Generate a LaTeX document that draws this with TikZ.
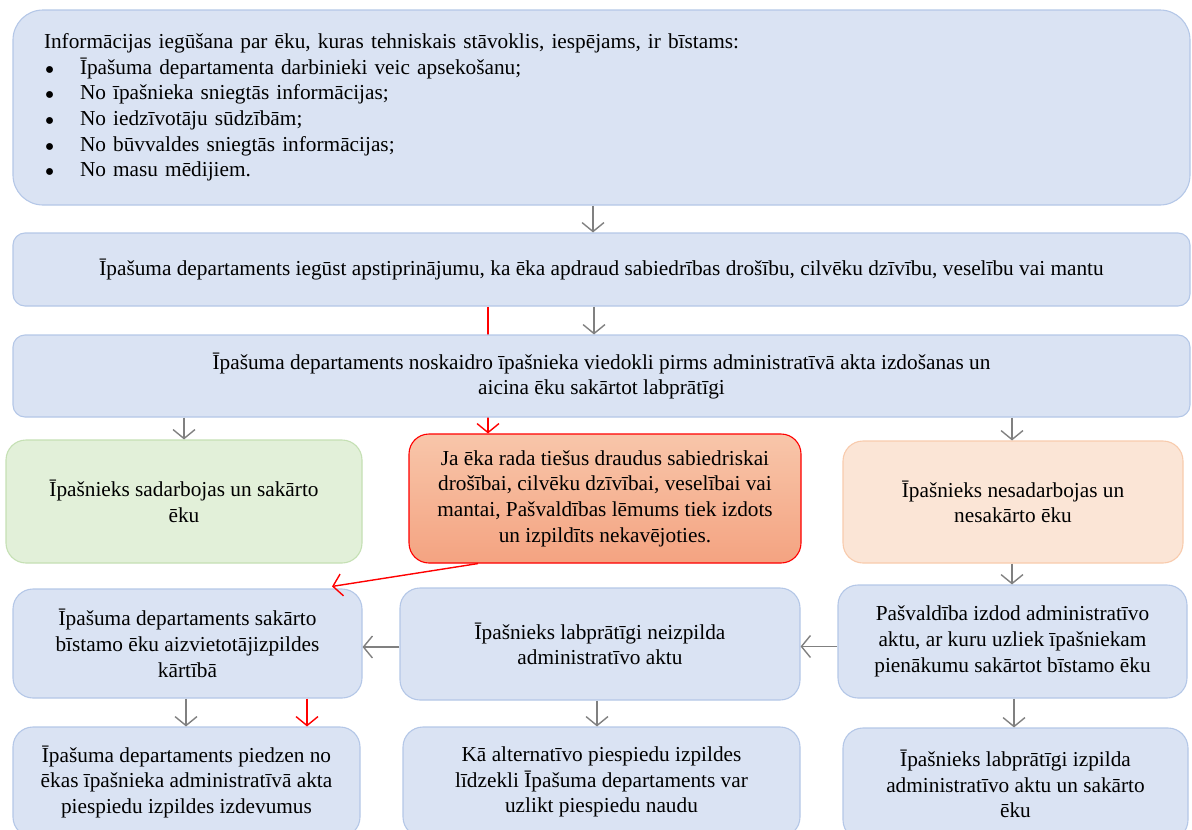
\documentclass[tikz,border=0pt]{standalone}
\usepackage{fontspec}
\setmainfont{Liberation Serif}
\usetikzlibrary{arrows.meta,calc}
\definecolor{boxblue}{HTML}{DAE3F3}
\definecolor{lineblue}{HTML}{B4C7E7}
\definecolor{boxgreen}{HTML}{E2F0D9}
\definecolor{linegreen}{HTML}{C5E0B4}
\definecolor{boxorange}{HTML}{FBE5D6}
\definecolor{lineorange}{HTML}{F8CBAD}
\definecolor{redtop}{HTML}{F8C6AA}
\definecolor{redbottom}{HTML}{F4A381}
\definecolor{arrowgray}{HTML}{808080}
\pgfdeclarelayer{bg}
\pgfsetlayers{bg,main}
\newcommand{\listdot}{\makebox[36pt][l]{\hspace{0.5pt}\raisebox{-0.5ex}[0pt][0pt]{\scalebox{1.35}{\textbullet}}}}
\tikzset{
  card/.style={draw=lineblue, fill=boxblue, line width=1.1pt, rounded corners=20pt,
    align=center, inner sep=0pt, font=\fontsize{21.3}{25.7}\selectfont},
  wide/.style={card, rounded corners=12pt},
  greencard/.style={card, draw=linegreen, fill=boxgreen},
  orangecard/.style={card, draw=lineorange, fill=boxorange},
  redcard/.style={card, draw=red, top color=redtop, bottom color=redbottom},
  garrow/.style={draw=arrowgray, line width=1.4pt,
    -{Straight Barb[length=9pt,width=22pt,line width=1.4pt]}},
  rarrow/.style={draw=red, line width=1.4pt,
    -{Straight Barb[length=9pt,width=22pt,line width=1.4pt]}},
}
\begin{document}
\begin{tikzpicture}[x=1pt,y=-1pt]
\useasboundingbox (0,0) rectangle (1192,830);
\clip (0,0) rectangle (1192,830);

% first row: information sources
\node[card, rounded corners=30pt, minimum width=1177pt, minimum height=195pt,
      text width=1115pt, align=left] (top) at (601.5,107.5)
  {Informācijas iegūšana par ēku, kuras tehniskais stāvoklis, iespējams, ir bīstams:\\
   \listdot Īpašuma departamenta darbinieki veic apsekošanu;\\
   \listdot No īpašnieka sniegtās informācijas;\\
   \listdot No iedzīvotāju sūdzībām;\\
   \listdot No būvvaldes sniegtās informācijas;\\
   \listdot No masu mēdijiem.};

\node[wide, minimum width=1177pt, minimum height=73pt] (b2) at (601.5,269.5)
  {Īpašuma departaments iegūst apstiprinājumu, ka ēka apdraud sabiedrības drošību, cilvēku dzīvību, veselību vai mantu};

\node[wide, minimum width=1177pt, minimum height=82pt] (b3) at (601.5,376)
  {Īpašuma departaments noskaidro īpašnieka viedokli pirms administratīvā akta izdošanas un\\
   aicina ēku sakārtot labprātīgi};

% second level: the three outcomes
\node[greencard, minimum width=356pt, minimum height=123pt] (coop) at (184,501.5)
  {Īpašnieks sadarbojas un sakārto\\ ēku};
\node[redcard, minimum width=392pt, minimum height=129pt] (danger) at (605,498.5)
  {Ja ēka rada tiešus draudus sabiedriskai\\ drošībai, cilvēku dzīvībai, veselībai vai\\
   mantai, Pašvaldības lēmums tiek izdots\\ un izpildīts nekavējoties.};
\node[orangecard, minimum width=340pt, minimum height=122pt] (nocoop) at (1013,502)
  {Īpašnieks nesadarbojas un\\ nesakārto ēku};

% third level
\node[card, minimum width=349pt, minimum height=109pt] (replace) at (187.5,643.5)
  {Īpašuma departaments sakārto\\ bīstamo ēku aizvietotājizpildes\\ kārtībā};
\node[card, minimum width=400pt, minimum height=112pt] (refuse) at (600,644)
  {Īpašnieks labprātīgi neizpilda\\ administratīvo aktu};
\node[card, minimum width=349pt, minimum height=113pt] (act) at (1012.5,641.5)
  {Pašvaldība izdod administratīvo\\ aktu, ar kuru uzliek īpašniekam\\ pienākumu sakārtot bīstamo ēku};

% fourth level
\node[card, minimum width=347pt, minimum height=110pt] (costs) at (186.5,782)
  {Īpašuma departaments piedzen no\\ ēkas īpašnieka administratīvā akta\\ piespiedu izpildes izdevumus};
\node[card, minimum width=397pt, minimum height=110pt] (fine) at (601.5,782)
  {Kā alternatīvo piespiedu izpildes\\ līdzekli Īpašuma departaments var\\ uzlikt piespiedu naudu};
\node[card, minimum width=345pt, minimum height=112pt] (comply) at (1015.5,784)
  {Īpašnieks labprātīgi izpilda\\ administratīvo aktu un sakārto\\ ēku};

% red path of urgent cases, running behind the third box
\begin{pgfonlayer}{bg}
  \draw[rarrow] ([xshift=-113.5pt]b2.south) -- ([xshift=-117pt]danger.north);
\end{pgfonlayer}

% connectors
\draw[garrow] ([xshift=-8.5pt]top.south) -- ([xshift=-8.5pt]b2.north);
\draw[garrow] ([xshift=-7.5pt]b2.south) -- ([xshift=-7.5pt]b3.north);
\draw[garrow] ([xshift=-417.5pt]b3.south) -- (coop.north);
\draw[garrow] ([xshift=410.5pt]b3.south) -- ([xshift=-1pt]nocoop.north);
\draw[rarrow] ([xshift=-127pt]danger.south) -- ([xshift=144.5pt,yshift=2pt]replace.north);
\draw[garrow] ([xshift=-1pt]nocoop.south) -- ([xshift=-0.5pt]act.north);
\draw[garrow] ([yshift=-5pt]act.west) -- ([yshift=-5pt]act.west -| refuse.east);
\draw[garrow] ([yshift=-3pt]refuse.west) -- ([yshift=-3pt]refuse.west -| replace.east);
\draw[garrow] ([xshift=-1.5pt]replace.south) -- ([xshift=-0.5pt]costs.north);
\draw[rarrow] ([xshift=119.5pt]replace.south) -- ([xshift=120.5pt]costs.north);
\draw[garrow] ([xshift=-3pt]refuse.south) -- ([xshift=-4.5pt]fine.north);
\draw[garrow] ([xshift=1.5pt]act.south) -- ([xshift=-1.5pt]comply.north);
\end{tikzpicture}
\end{document}
